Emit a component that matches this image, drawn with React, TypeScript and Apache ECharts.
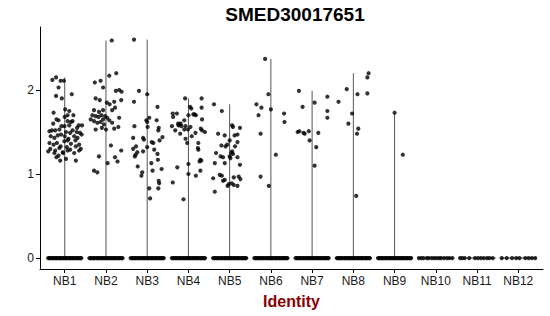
import React, { useEffect, useRef } from "react";
import * as echarts from "echarts";

const TITLE = "SMED30017651";
const X_NAME = "Identity";
const CATEGORIES = ["NB1", "NB2", "NB3", "NB4", "NB5", "NB6", "NB7", "NB8", "NB9", "NB10", "NB11", "NB12"];
const Y_TICKS = [0, 1, 2];

// [jitter offset (category units), expression value]
const NB1_POINTS: [number, number][] = [
  [-0.3, 2.12], [-0.21, 2.15], [-0.1, 2.11], [-0.02, 2.11], [-0.15, 2.03], [-0.21, 1.93], [-0.07, 1.9], [0.17, 1.95],
  [-0.27, 1.73], [0.01, 1.77], [0.11, 1.75], [0.21, 1.7], [0.07, 1.7], [-0.2, 1.65], [-0.15, 1.64], [0.07, 1.63],
  [0.15, 1.62], [0.19, 1.63], [-0.08, 1.57], [-0.005, 1.57], [0.11, 1.58], [0.34, 1.58], [0.42, 1.58],
  [-0.37, 1.51], [-0.31, 1.52], [-0.23, 1.52], [-0.13, 1.53], [0.03, 1.5], [0.13, 1.49], [0.19, 1.52], [0.29, 1.5], [0.37, 1.49],
  [-0.34, 1.45], [-0.25, 1.43], [-0.17, 1.46], [-0.09, 1.47], [0.0, 1.45], [0.09, 1.42], [0.23, 1.45], [0.31, 1.43], [0.41, 1.47],
  [-0.37, 1.37], [-0.27, 1.35], [-0.19, 1.37], [-0.1, 1.33], [-0.01, 1.39], [0.07, 1.4], [0.15, 1.36], [0.26, 1.4], [0.35, 1.35],
  [-0.35, 1.3], [-0.23, 1.28], [-0.13, 1.31], [-0.05, 1.26], [0.05, 1.32], [0.13, 1.29], [0.27, 1.33], [0.39, 1.3],
  [-0.25, 1.25], [-0.15, 1.22], [-0.04, 1.25], [0.07, 1.28], [0.23, 1.25], [0.35, 1.28],
  [-0.2, 1.2], [-0.11, 1.16], [0.27, 1.16], [0.03, 1.18], [-0.4, 1.27], [0.3, 1.55], [-0.28, 1.6], [0.0, 1.68]
];
const NB2_POINTS: [number, number][] = [
  [0.14, 2.59], [-0.27, 2.09], [-0.13, 2.11], [-0.07, 2.03], [0.08, 2.17], [0.25, 2.2], [-0.25, 1.9], [-0.15, 1.88],
  [0.32, 2.0], [0.38, 1.98], [0.24, 1.99], [0.37, 1.88], [0.2, 1.86], [0.02, 1.85], [0.09, 1.83], [-0.29, 1.76],
  [-0.17, 1.74], [-0.07, 1.76], [0.15, 1.76], [0.22, 1.79], [-0.33, 1.7], [-0.37, 1.65], [-0.25, 1.69], [-0.18, 1.68],
  [-0.11, 1.7], [-0.02, 1.69], [0.03, 1.67], [-0.07, 1.65], [-0.29, 1.63], [-0.21, 1.61], [-0.13, 1.62], [-0.05, 1.59],
  [0.08, 1.64], [0.15, 1.61], [-0.25, 1.53], [-0.1, 1.55], [0.0, 1.53], [0.2, 1.54], [0.32, 1.67], [0.3, 1.56],
  [0.12, 1.34], [-0.17, 1.21], [0.22, 1.2], [0.37, 1.28], [0.28, 1.15], [0.04, 1.13], [-0.29, 1.04], [-0.21, 1.02]
];
const NB3_POINTS: [number, number][] = [
  [-0.32, 2.6], [-0.2, 1.99], [0.0, 1.95], [-0.32, 1.86], [0.25, 1.8], [0.05, 1.67], [-0.02, 1.64], [0.0, 1.62],
  [0.23, 1.64], [-0.31, 1.57], [0.01, 1.56], [0.28, 1.55], [0.27, 1.52], [-0.34, 1.43], [-0.1, 1.43], [-0.08, 1.41],
  [0.37, 1.44], [0.3, 1.4], [0.11, 1.38], [0.15, 1.37], [-0.27, 1.33], [0.0, 1.32], [-0.34, 1.3], [0.17, 1.29],
  [-0.24, 1.26], [-0.28, 1.23], [-0.3, 1.21], [-0.1, 1.27], [0.25, 1.24], [0.26, 1.17], [-0.23, 1.09], [0.1, 1.13],
  [0.35, 1.06], [-0.12, 1.02], [-0.14, 0.98], [0.13, 1.04], [0.28, 0.92], [0.29, 0.89], [0.05, 0.83], [0.27, 0.83], [0.07, 0.71]
];
const NB4_POINTS: [number, number][] = [
  [-0.08, 1.9], [0.32, 1.9], [0.04, 1.8], [0.07, 1.78], [0.32, 1.79], [-0.38, 1.72], [-0.28, 1.72], [0.12, 1.71],
  [0.15, 1.71], [0.18, 1.7], [0.0, 1.7], [-0.37, 1.68], [-0.1, 1.64], [0.33, 1.65], [-0.25, 1.6], [-0.22, 1.59],
  [-0.19, 1.6], [-0.24, 1.58], [-0.17, 1.57], [-0.4, 1.57], [-0.07, 1.57], [0.05, 1.56], [0.3, 1.54], [0.33, 1.52],
  [-0.32, 1.52], [-0.1, 1.53], [-0.01, 1.53], [0.17, 1.49], [0.4, 1.5], [-0.2, 1.48], [0.08, 1.45], [-0.07, 1.42],
  [0.24, 1.37], [-0.03, 1.37], [0.23, 1.31], [0.24, 1.29], [0.29, 1.17], [0.27, 1.15], [0.31, 1.16], [-0.27, 1.08],
  [0.0, 1.12], [0.29, 1.04], [0.0, 1.0], [0.18, 0.98], [-0.38, 0.9], [-0.12, 0.7]
];
const NB5_POINTS: [number, number][] = [
  [-0.38, 1.83], [-0.19, 1.75], [0.06, 1.58], [0.08, 1.56], [0.25, 1.55], [-0.28, 1.48], [-0.12, 1.46], [0.12, 1.46],
  [0.19, 1.47], [0.0, 1.4], [0.19, 1.38], [-0.2, 1.34], [-0.1, 1.33], [-0.06, 1.35], [0.13, 1.33], [0.06, 1.27],
  [0.04, 1.25], [0.08, 1.24], [-0.33, 1.25], [-0.22, 1.21], [-0.16, 1.2], [0.0, 1.21], [0.02, 1.19], [0.19, 1.2],
  [-0.36, 1.13], [-0.12, 1.13], [0.25, 1.11], [-0.24, 0.99], [-0.19, 0.98], [-0.4, 0.95], [-0.12, 0.93], [-0.16, 0.92],
  [0.1, 0.96], [0.22, 0.97], [0.26, 0.94], [-0.02, 0.88], [0.05, 0.89], [0.1, 0.87], [-0.05, 0.86], [0.19, 0.86], [-0.36, 0.79]
];
const NB6_POINTS: [number, number][] = [
  [-0.14, 2.37], [-0.06, 1.95], [-0.35, 1.83], [-0.23, 1.79], [0.0, 1.77], [-0.3, 1.7], [0.32, 1.72], [0.33, 1.62],
  [-0.25, 1.48], [0.12, 1.23], [-0.25, 0.97], [-0.05, 0.86]
];
const NB7_POINTS: [number, number][] = [
  [-0.32, 1.99], [0.06, 1.85], [-0.23, 1.8], [0.37, 1.92], [0.37, 1.75], [0.37, 1.67], [-0.35, 1.5], [-0.31, 1.51],
  [-0.21, 1.49], [-0.18, 1.48], [-0.08, 1.51], [0.15, 1.49], [-0.06, 1.4], [0.1, 1.32], [0.06, 1.1]
];
const NB8_POINTS: [number, number][] = [
  [0.37, 2.2], [0.34, 2.15], [-0.16, 2.01], [0.1, 1.95], [0.34, 1.96], [-0.36, 1.86], [-0.03, 1.72], [-0.12, 1.6],
  [0.12, 1.54], [0.09, 1.48], [0.07, 0.74]
];
const NB9_POINTS: [number, number][] = [[0.0, 1.73], [0.2, 1.23]];

// jitter offsets of the cells with zero expression
const ZERO_DENSE = [
  -0.4, -0.37, -0.35, -0.31, -0.29, -0.26, -0.22, -0.2, -0.17, -0.13, -0.11, -0.08, -0.05, -0.02, 0.01,
  0.03, 0.06, 0.1, 0.12, 0.15, 0.18, 0.21, 0.23, 0.27, 0.3, 0.32, 0.35, 0.38, 0.4
];
const ZERO_NB10 = [-0.41, -0.35, -0.3, -0.22, -0.17, -0.1, -0.04, 0.02, 0.08, 0.13, 0.2, 0.27, 0.33, 0.4];
const ZERO_NB11 = [-0.41, -0.36, -0.3, -0.19, -0.05, 0.02, 0.09, 0.16, 0.24, 0.3, 0.38];
const ZERO_NB12 = [-0.4, -0.28, -0.15, -0.05, 0.03, 0.17, 0.25, 0.33, 0.41];

const GROUP_POINTS = [NB1_POINTS, NB2_POINTS, NB3_POINTS, NB4_POINTS, NB5_POINTS, NB6_POINTS, NB7_POINTS, NB8_POINTS, NB9_POINTS, [], [], []];
const GROUP_ZEROS = [ZERO_DENSE, ZERO_DENSE, ZERO_DENSE, ZERO_DENSE, ZERO_DENSE, ZERO_DENSE, ZERO_DENSE, ZERO_DENSE, ZERO_DENSE, ZERO_NB10, ZERO_NB11, ZERO_NB12];

const FONT = "Liberation Sans, Arial, sans-serif";

export default function App() {
  const ref = useRef<HTMLDivElement>(null);
  useEffect(() => {
    const chart = echarts.init(ref.current!, null, { renderer: "svg" });
    const points: number[][] = [];
    GROUP_ZEROS.forEach((zs, i) => zs.forEach((o) => points.push([i + 1 + o, 0])));
    GROUP_POINTS.forEach((ps, i) => (ps as [number, number][]).forEach(([o, v]) => points.push([i + 1 + o, v])));
    const violins = GROUP_POINTS.map((ps, i) => [
      i + 1,
      ps.length ? Math.max(...(ps as [number, number][]).map((d) => d[1])) : 0,
    ]);
    const ticks = CATEGORIES.map((_, i) => i + 1);
    chart.setOption({
      animation: false,
      title: {
        text: TITLE,
        left: 290,
        top: 0,
        textAlign: "center",
        textStyle: { fontSize: 19, fontWeight: "bold", color: "#000", fontFamily: FONT },
      },
      grid: { left: 40, right: 7, top: 27, bottom: 47, containLabel: false, outerBoundsMode: "none" },
      xAxis: {
        type: "value",
        min: 0.4,
        max: 12.6,
        splitLine: { show: false },
        axisLine: { onZero: false, lineStyle: { color: "#000", width: 1 } },
        axisTick: { customValues: ticks, length: 4, lineStyle: { color: "#000" } },
        axisLabel: {
          customValues: ticks,
          formatter: (v: number) => CATEGORIES[Math.round(v) - 1] ?? "",
          fontSize: 12,
          color: "#1a1a1a",
          margin: 6,
          fontFamily: FONT,
        },
        name: X_NAME,
        nameLocation: "middle",
        nameGap: 24,
        nameTextStyle: { fontSize: 16, fontWeight: "bold", color: "#8B0000", fontFamily: FONT },
      },
      yAxis: {
        type: "value",
        min: -0.13,
        max: 2.75,
        splitLine: { show: false },
        axisLine: { show: true, onZero: false, lineStyle: { color: "#000", width: 1 } },
        axisTick: { show: true, customValues: Y_TICKS, length: 4, lineStyle: { color: "#000" } },
        axisLabel: { customValues: Y_TICKS, fontSize: 12, color: "#1a1a1a", margin: 6, fontFamily: FONT },
      },
      series: [
        {
          type: "custom",
          data: violins,
          renderItem: (_params: any, api: any) => {
            const x = api.value(0);
            const top = api.value(1);
            const base = api.coord([x, 0]);
            const l = api.coord([x - 0.45, 0]);
            const r = api.coord([x + 0.45, 0]);
            const children: any[] = [
              { type: "line", shape: { x1: l[0], y1: l[1], x2: r[0], y2: r[1] }, style: { stroke: "#333", lineWidth: 1 } },
            ];
            if (top > 0) {
              const t = api.coord([x, top]);
              children.push({ type: "line", shape: { x1: base[0], y1: base[1], x2: t[0], y2: t[1] }, style: { stroke: "#555", lineWidth: 1 } });
            }
            return { type: "group", children };
          },
          z: 1,
        },
        {
          type: "scatter",
          data: points,
          symbol: "circle",
          symbolSize: 4.2,
          itemStyle: { color: "#000" },
          z: 2,
        },
      ],
    });
    return () => chart.dispose();
  }, []);
  return <div ref={ref} style={{ position: "absolute", left: 0, top: 0, width: 550, height: 316, background: "#fff" }} />;
}
